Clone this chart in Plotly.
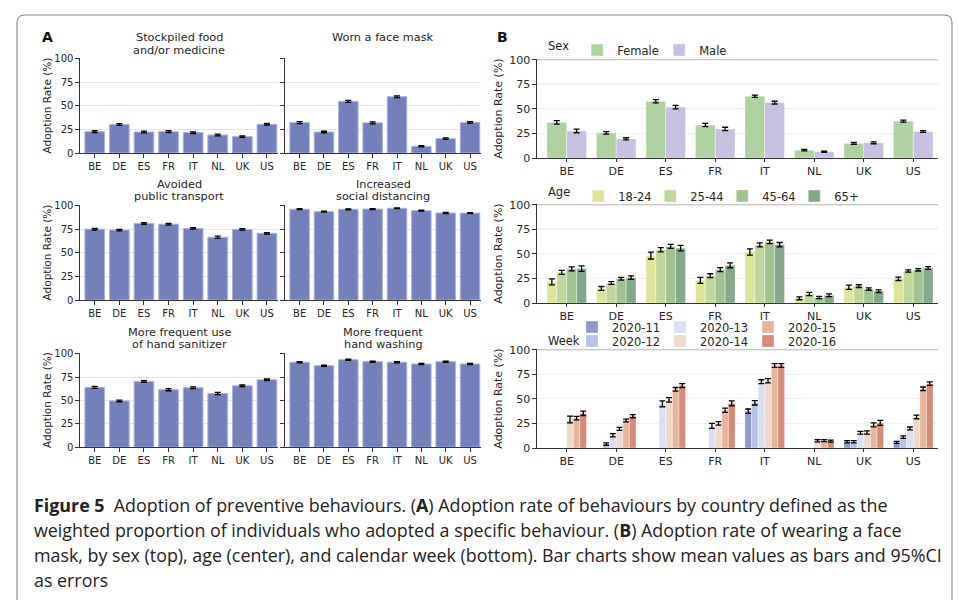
import plotly.graph_objects as go

W, H = 959, 600

countries = ["BE", "DE", "ES", "FR", "IT", "NL", "UK", "US"]

# ---- Panel A data ----
a_titles = ["Stockpiled food<br>and/or medicine", "Worn a face mask",
            "Avoided<br>public transport", "Increased<br>social distancing",
            "More frequent use<br>of hand sanitizer", "More frequent<br>hand washing"]
stockpiled = [22.6, 30.2, 22.3, 22.6, 21.6, 19.1, 17.3, 30.4]
stockpiled_err = [1.0, 0.9, 1.0, 1.0, 0.9, 1.0, 0.8, 0.9]
face_mask = [32.2, 22.3, 54.8, 32.0, 59.7, 7.1, 15.2, 32.5]
face_mask_err = [1.0, 0.8, 1.0, 1.0, 0.9, 0.6, 0.8, 0.8]
public_transport = [75.2, 74.2, 81.2, 80.5, 75.9, 66.6, 74.9, 70.7]
public_transport_err = [0.9, 0.8, 0.8, 0.9, 0.8, 1.2, 0.8, 0.8]
social_distancing = [96.3, 93.7, 96.2, 96.5, 97.3, 94.8, 92.3, 92.2]
social_distancing_err = [0.5, 0.5, 0.5, 0.5, 0.4, 0.6, 0.6, 0.6]
hand_sanitizer = [63.9, 49.4, 70.2, 61.4, 63.5, 57.3, 65.6, 72.1]
hand_sanitizer_err = [1.1, 0.9, 1.0, 1.1, 1.0, 1.2, 0.9, 0.8]
hand_washing = [90.9, 87.1, 93.6, 91.5, 90.9, 89.0, 91.5, 89.0]
hand_washing_err = [0.7, 0.6, 0.6, 0.6, 0.7, 0.7, 0.6, 0.6]
a_values = [stockpiled, face_mask, public_transport, social_distancing, hand_sanitizer, hand_washing]
a_errors = [stockpiled_err, face_mask_err, public_transport_err, social_distancing_err,
            hand_sanitizer_err, hand_washing_err]
a_color = "#7480bc"

# ---- Panel B data ----
sex_groups = ["Female", "Male"]
sex_female = [36.3, 25.6, 57.8, 33.6, 62.9, 8.0, 14.8, 37.6]
sex_female_err = [1.8, 1.2, 1.6, 1.6, 1.2, 0.8, 1.0, 1.0]
sex_male = [27.5, 19.5, 51.8, 29.6, 56.4, 6.4, 15.5, 26.9]
sex_male_err = [1.8, 1.1, 1.7, 1.7, 1.4, 0.7, 1.0, 0.9]
sex_values = [sex_female, sex_male]
sex_errors = [sex_female_err, sex_male_err]
sex_colors = ["#afd3a0", "#c8c0e0"]

age_groups = ["18-24", "25-44", "45-64", "65+"]
age_18_24 = [21.5, 14.8, 48.3, 23.0, 52.0, 4.8, 16.0, 24.6]
age_25_44 = [31.2, 20.3, 54.2, 27.8, 59.2, 9.2, 17.2, 32.6]
age_45_64 = [34.8, 24.6, 57.6, 34.0, 62.2, 5.6, 14.2, 33.8]
age_65p = [35.1, 25.9, 55.8, 38.4, 59.4, 7.8, 12.0, 35.6]
age_18_24_err = [3.0, 2.0, 3.5, 3.0, 3.2, 1.5, 2.2, 1.7]
age_25_44_err = [2.0, 1.4, 2.2, 2.0, 2.0, 1.6, 1.4, 1.2]
age_45_64_err = [2.0, 1.4, 2.0, 2.0, 1.8, 1.2, 1.2, 1.2]
age_65p_err = [2.8, 1.8, 2.8, 2.5, 2.2, 1.4, 1.3, 1.4]
age_values = [age_18_24, age_25_44, age_45_64, age_65p]
age_errors = [age_18_24_err, age_25_44_err, age_45_64_err, age_65p_err]
age_colors = ["#dee597", "#bfd79a", "#a0c38f", "#82aa88"]

weeks = ["2020-11", "2020-12", "2020-13", "2020-14", "2020-15", "2020-16"]
week_11 = [None, None, None, None, 37.5, None, 6.4, 5.7]
week_12 = [None, 4.0, None, None, 46.0, None, 6.4, 11.1]
week_13 = [None, 13.0, 45.0, 22.5, 67.5, None, 15.5, 19.9]
week_14 = [29.0, 19.5, 49.0, 25.0, 68.5, 7.4, 15.8, 31.6]
week_15 = [30.5, 28.0, 59.8, 38.5, 84.0, 7.5, 23.5, 60.3]
week_16 = [35.3, 32.4, 63.6, 45.5, 84.0, 7.0, 25.6, 65.5]
week_11_err = [None, None, None, None, 2.2, None, 1.2, 1.0]
week_12_err = [None, 1.2, None, None, 2.2, None, 1.2, 1.2]
week_13_err = [None, 1.6, 3.0, 2.5, 2.0, None, 1.4, 1.5]
week_14_err = [3.5, 1.6, 2.2, 1.8, 2.2, 1.1, 1.6, 1.8]
week_15_err = [1.8, 1.5, 1.8, 2.2, 2.0, 1.0, 2.0, 1.8]
week_16_err = [2.2, 1.6, 2.0, 2.5, 2.0, 1.0, 2.5, 1.8]
week_values = [week_11, week_12, week_13, week_14, week_15, week_16]
week_errors = [week_11_err, week_12_err, week_13_err, week_14_err, week_15_err, week_16_err]
week_colors = ["#8d98cb", "#b6c1e6", "#d9def1", "#eed9cc", "#e9b59a", "#d58b78"]

FONT = "DejaVu Sans"
TXT = "#262626"


def px_x(p):
    return p / W


def px_y(p):
    return 1 - p / H


fig = go.Figure()


def err(arr):
    return dict(type="data", array=arr, visible=True, color="black", thickness=1.3, width=3)


# Panel A bars
for i, (vals, errs) in enumerate(zip(a_values, a_errors)):
    n = i + 1
    fig.add_trace(go.Bar(
        x=countries, y=vals, error_y=err(errs),
        marker=dict(color=a_color, line=dict(color="#aab1da", width=1)),
        xaxis=f"x{n}", yaxis=f"y{n}", showlegend=False,
    ))

edge = dict(color="rgba(255,255,255,0.6)", width=0.6)
# Panel B sex
for name, vals, errs, col in zip(sex_groups, sex_values, sex_errors, sex_colors):
    fig.add_trace(go.Bar(
        x=countries, y=vals, error_y=err(errs), name=name,
        marker=dict(color=col, line=edge),
        xaxis="x7", yaxis="y7", legend="legend", offsetgroup=name,
    ))
# Panel B age
for name, vals, errs, col in zip(age_groups, age_values, age_errors, age_colors):
    fig.add_trace(go.Bar(
        x=countries, y=vals, error_y=err(errs), name=name,
        marker=dict(color=col, line=edge),
        xaxis="x8", yaxis="y8", legend="legend2", offsetgroup=name,
    ))
# Panel B week (legend laid out in two rows: 11/13/15 on top, 12/14/16 below)
for k, (name, vals, errs, col) in enumerate(zip(weeks, week_values, week_errors, week_colors)):
    fig.add_trace(go.Bar(
        x=countries, y=vals, error_y=err(errs), name=name,
        marker=dict(color=col, line=edge),
        xaxis="x9", yaxis="y9", legend="legend3" if k % 2 == 0 else "legend4",
        offsetgroup=name,
    ))

# Axes layout (pixel domains)
a_cols = [(80, 278), (285, 481)]
a_rows = [(58, 153), (205, 300), (353, 447)]
b_x = (537, 938)
b_rows = [(59, 158), (204, 303), (349, 448)]

axis_common = dict(showline=True, linecolor="#333333", linewidth=1.2,
                   ticks="outside", ticklen=3.5, tickwidth=1.1, tickcolor="#333333",
                   tickfont=dict(family=FONT, size=10, color=TXT), zeroline=False)

layout = {}
for i in range(6):
    r, c = divmod(i, 2)
    n = i + 1
    x0, x1 = a_cols[c]
    y0, y1 = a_rows[r]
    layout[f"xaxis{n}" if n > 1 else "xaxis"] = dict(
        axis_common, domain=[px_x(x0), px_x(x1)], anchor=f"y{n}",
        range=[-0.6, 7.45], showgrid=False, type="category")
    layout[f"yaxis{n}" if n > 1 else "yaxis"] = dict(
        axis_common, domain=[px_y(y1), px_y(y0)], anchor=f"x{n}",
        range=[0, 100.8], tickvals=[0, 25, 50, 75, 100], showgrid=True,
        gridcolor="#e3e3e3", gridwidth=1, showticklabels=(c == 0),
        title=dict(text="Adoption Rate (%)" if c == 0 else "",
                   font=dict(family=FONT, size=10.5, color=TXT), standoff=0))

for j in range(3):
    n = 7 + j
    y0, y1 = b_rows[j]
    layout[f"xaxis{n}"] = dict(
        axis_common, domain=[px_x(b_x[0]), px_x(b_x[1])], anchor=f"y{n}",
        range=[-0.6, 7.5], showgrid=False, type="category", ticklen=3,
        tickfont=dict(family=FONT, size=11, color=TXT))
    layout[f"yaxis{n}"] = dict(
        axis_common, domain=[px_y(y1), px_y(y0)], anchor=f"x{n}",
        range=[0, 100.8], tickvals=[0, 25, 50, 75, 100], showgrid=True,
        gridcolor="#efefef", gridwidth=1,
        tickfont=dict(family=FONT, size=11, color=TXT),
        title=dict(text="Adoption Rate (%)", font=dict(family=FONT, size=11, color=TXT),
                   standoff=4))

# darker grid lines in B (at 75/100 in top two panels, 100 in bottom)
shapes = []
for n, levels in [(7, [75, 100]), (8, [75, 100]), (9, [100])]:
    for lv in levels:
        shapes.append(dict(type="line", xref=f"x{n} domain", yref=f"y{n}",
                           x0=0, x1=1, y0=lv, y1=lv, layer="below",
                           line=dict(color="#b4b4b4", width=1)))

# figure frame (rounded, left + top + right)
r = 8
fx0, fy0, fx1 = 17, 15, 952
path = (f"M {px_x(fx0)},{px_y(620)} L {px_x(fx0)},{px_y(fy0 + r)} "
        f"Q {px_x(fx0)},{px_y(fy0)} {px_x(fx0 + r)},{px_y(fy0)} "
        f"L {px_x(fx1 - r)},{px_y(fy0)} Q {px_x(fx1)},{px_y(fy0)} {px_x(fx1)},{px_y(fy0 + r)} "
        f"L {px_x(fx1)},{px_y(620)}")
shapes.append(dict(type="path", xref="paper", yref="paper", path=path,
                   line=dict(color="#8c8c8c", width=1.2)))

annotations = []
# subplot titles (one annotation per line for tight matplotlib-like line spacing)
title_line_y = [(37.7, 50.0), (184.0, 196.5), (332.3, 344.5)]
for i, t in enumerate(a_titles):
    r_, c = divmod(i, 2)
    x0, x1 = a_cols[c]
    for li, part in enumerate(t.split("<br>")):
        annotations.append(dict(text=part, x=px_x((x0 + x1) / 2), y=px_y(title_line_y[r_][li]),
                                xref="paper", yref="paper", xanchor="center", yanchor="middle",
                                showarrow=False, align="center",
                                font=dict(family=FONT, size=11.3, color=TXT)))
# panel letters
for letter, x in [("A", 40), ("B", 495)]:
    annotations.append(dict(text=f"<b>{letter}</b>", x=px_x(x), y=px_y(37), xref="paper",
                            yref="paper", xanchor="left", yanchor="middle", showarrow=False,
                            font=dict(family=FONT, size=14, color="#111111")))

leg_font = dict(family=FONT, size=11.5, color=TXT)
# "Week" legend heading
annotations.append(dict(text="Week", x=px_x(546), y=px_y(341), xref="paper", yref="paper",
                        xanchor="left", yanchor="middle", showarrow=False, font=leg_font))

# caption
caption_lines = [
    "<b>Figure 5</b>&nbsp;&nbsp;Adoption of preventive behaviours. (<b>A</b>) Adoption rate of behaviours by country defined as the",
    "weighted proportion of individuals who adopted a specific behaviour. (<b>B</b>) Adoption rate of wearing a face",
    "mask, by sex (top), age (center), and calendar week (bottom). Bar charts show mean values as bars and 95%CI",
    "as errors",
]
cap_y = [505, 530, 555, 580]
for line, yy in zip(caption_lines, cap_y):
    annotations.append(dict(text=line, x=px_x(32), y=px_y(yy), xref="paper", yref="paper",
                            xanchor="left", yanchor="middle", showarrow=False,
                            font=dict(family="Open Sans", size=17.85, color="#222222")))

legends = dict(
    legend=dict(title=dict(text="Sex", font=leg_font), orientation="h", x=px_x(546),
                y=px_y(50), xanchor="left", yanchor="middle", font=leg_font,
                bgcolor="rgba(0,0,0,0)", entrywidth=37, itemclick=False),
    legend2=dict(title=dict(text="Age", font=leg_font), orientation="h", x=px_x(546),
                 y=px_y(196), xanchor="left", yanchor="middle", font=leg_font,
                 bgcolor="rgba(0,0,0,0)", entrywidth=27, itemclick=False),
    legend3=dict(orientation="h", x=px_x(572), y=px_y(327), xanchor="left",
                 yanchor="middle", font=leg_font, bgcolor="rgba(0,0,0,0)",
                 entrywidth=43, itemclick=False),
    legend4=dict(orientation="h", x=px_x(572), y=px_y(341), xanchor="left",
                 yanchor="middle", font=leg_font, bgcolor="rgba(0,0,0,0)",
                 entrywidth=43, itemclick=False),
)

fig.update_layout(
    width=W, height=H, margin=dict(l=0, r=0, t=0, b=0, autoexpand=False),
    paper_bgcolor="white", plot_bgcolor="rgba(0,0,0,0)",
    barmode="group", bargap=0.2, bargroupgap=0,
    shapes=shapes, annotations=annotations, showlegend=True,
    font=dict(family=FONT, color=TXT),
    **layout, **legends,
)

fig.write_html("out.html", config={"responsive": False, "displayModeBar": False},
               post_script="document.body.style.margin='0px';document.body.style.overflow='hidden';")
